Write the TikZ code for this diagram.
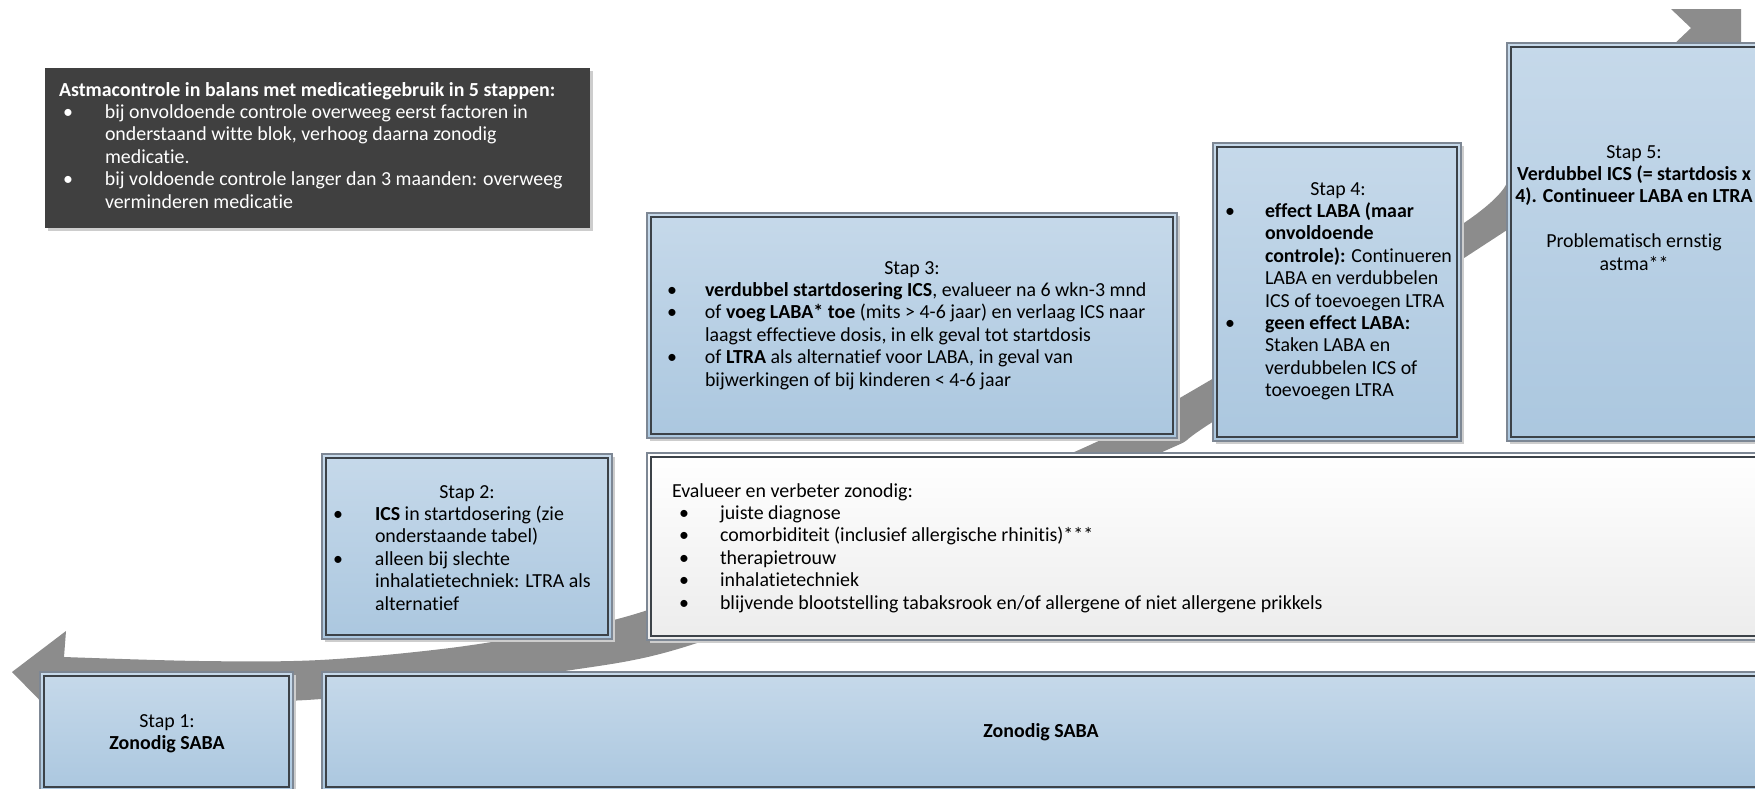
\documentclass[tikz,border=0pt]{standalone}
\usepackage{fontspec}
\setmainfont{Carlito}[Ligatures=NoCommon]
\usetikzlibrary{shadows}
\definecolor{arrowc}{RGB}{140,140,140}
\definecolor{darkc}{RGB}{64,64,64}
\definecolor{bluetop}{RGB}{198,217,234}
\definecolor{bluebot}{RGB}{171,199,223}
\definecolor{outerc}{RGB}{125,135,148}
\definecolor{innerc}{RGB}{60,66,72}
\definecolor{greybot}{RGB}{236,236,236}
\definecolor{shadowc}{RGB}{205,205,205}
\newcommand\bulx[1]{\makebox[#1][l]{\textbullet}}
\begin{document}
\begin{tikzpicture}[x=1pt,y=-1pt,
  txt/.style={font=\fontsize{19.9}{22.4}\selectfont, inner sep=0pt, outer sep=0pt},
  shad/.style={drop shadow={shadow xshift=3pt,shadow yshift=-3pt,fill=shadowc,opacity=1}},
  stepbox/.style={rectangle, draw=outerc, line width=1.3pt, inner sep=0pt, outer sep=0pt,
     top color=bluetop, bottom color=bluebot, shad},
  whitebox/.style={rectangle, draw=outerc, line width=1.3pt, inner sep=0pt, outer sep=0pt,
     top color=white, bottom color=greybot, shad},
  darkbox/.style={rectangle, fill=darkc, inner sep=0pt, outer sep=0pt, shad},
  innerline/.style={draw=innerc, line width=1.3pt}]
\useasboundingbox (0,0) rectangle (1755,788);
\fill[white] (0,0) rectangle (1755,788);

% big grey arrow
\fill[arrowc] (12,672) -- (66,631) -- (64,657)
 -- plot[smooth, tension=0.55] coordinates {(64,657) (200,661) (320,660) (450,648) (560,630) (648,610) (860,533) (1072,453) (1214,378) (1461,225) (1507,182)}
 -- (1671,47) -- (1691,28) -- (1671,9) -- (1741,9) -- (1741,80) -- (1507,230)
 -- plot[smooth, tension=0.55] coordinates {(1507,230) (1461,260) (1214,421) (1160,453) (930,548) (700,642) (558,672) (321,699) (200,700) (64,700)}
 -- (66,727) -- cycle;

% boxes
\node[darkbox, minimum width=545pt, minimum height=160pt] (intro) at (317.5,148) {};
\node[stepbox, minimum width=530pt, minimum height=225pt] (s3) at (912,325.5) {};
\node[stepbox, minimum width=248pt, minimum height=298pt] (s4) at (1337,292) {};
\node[stepbox, minimum width=254pt, minimum height=398pt] (s5) at (1634,242) {};
\node[stepbox, minimum width=290pt, minimum height=185pt] (s2) at (467,546.5) {};
\node[whitebox, minimum width=1114pt, minimum height=187pt] (ev) at (1204,546.5) {};
\node[stepbox, minimum width=253pt, minimum height=119pt] (s1) at (166.5,731.5) {};
\node[stepbox, minimum width=1439pt, minimum height=119pt] (saba) at (1041.5,731.5) {};
\foreach \n in {s1,s2,s3,s4,s5,ev,saba}
  \draw[innerline] ([shift={(4pt,-4pt)}]\n.north west) rectangle ([shift={(-4pt,4pt)}]\n.south east);

% intro text
\node[txt, white, anchor=base west] (introtitle) at (59,96) {\bfseries Astmacontrole in balans met medicatiegebruik in 5 stappen:};
\node[txt, white, anchor=base west] (introlist) at (63,118.4) {\begin{tabular}[t]{@{}l@{}l@{}}
\bulx{42pt}& bij onvoldoende controle overweeg eerst factoren in\\
& onderstaand witte blok, verhoog daarna zonodig\\
& medicatie.\\
\bulx{42pt}& bij voldoende controle langer dan 3 maanden: overweeg\\
& verminderen medicatie
\end{tabular}};

% stap 3
\node[txt, anchor=base] (h3) at (912,274) {Stap 3:};
\node[txt, anchor=base west] (l3) at (667,296.4) {\begin{tabular}[t]{@{}l@{}l@{}}
\bulx{38pt}& \textbf{verdubbel startdosering ICS}, evalueer na 6 wkn-3 mnd\\
\bulx{38pt}& of \textbf{voeg LABA* toe} (mits > 4-6 jaar) en verlaag ICS naar\\
& laagst effectieve dosis, in elk geval tot startdosis\\
\bulx{38pt}& of \textbf{LTRA} als alternatief voor LABA, in geval van\\
& bijwerkingen of bij kinderen < 4-6 jaar
\end{tabular}};

% stap 4
\node[txt, anchor=base] (h4) at (1338,195) {Stap 4:};
\node[txt, anchor=base west] (l4) at (1225,217.4) {\begin{tabular}[t]{@{}l@{}l@{}}
\bulx{40pt}& \textbf{effect LABA (maar}\\
& \textbf{onvoldoende}\\
& \textbf{controle):} Continueren\\
& LABA en verdubbelen\\
& ICS of toevoegen LTRA\\
\bulx{40pt}& \textbf{geen effect LABA:}\\
& Staken LABA en\\
& verdubbelen ICS of\\
& toevoegen LTRA
\end{tabular}};

% stap 5
\node[txt, anchor=base] (t5) at (1634,158) {\begin{tabular}[t]{@{}c@{}}
Stap 5:\\
\textbf{Verdubbel ICS (= startdosis x}\\
\textbf{4). Continueer LABA en LTRA}\\
\\
Problematisch ernstig\\
astma**
\end{tabular}};

% stap 2
\node[txt, anchor=base] (h2) at (467,498) {Stap 2:};
\node[txt, anchor=base west] (l2) at (333,520.4) {\begin{tabular}[t]{@{}l@{}l@{}}
\bulx{42pt}& \textbf{ICS} in startdosering (zie\\
& onderstaande tabel)\\
\bulx{42pt}& alleen bij slechte\\
& inhalatietechniek: LTRA als\\
& alternatief
\end{tabular}};

% evalueer
\node[txt, anchor=base west] (evt) at (672,497) {Evalueer en verbeter zonodig:};
\node[txt, anchor=base west] (evl) at (679,519.4) {\begin{tabular}[t]{@{}l@{}l@{}}
\bulx{41pt}& juiste diagnose\\
\bulx{41pt}& comorbiditeit (inclusief allergische rhinitis)***\\
\bulx{41pt}& therapietrouw\\
\bulx{41pt}& inhalatietechniek\\
\bulx{41pt}& blijvende blootstelling tabaksrook en/of allergene of niet allergene prikkels
\end{tabular}};

% stap 1 and saba
\node[txt, anchor=base] (t1) at (167,727) {\begin{tabular}[t]{@{}c@{}}
Stap 1:\\
\textbf{Zonodig SABA}
\end{tabular}};
\node[txt, anchor=base] (tsaba) at (1041,737) {\textbf{Zonodig SABA}};
\end{tikzpicture}
\end{document}
